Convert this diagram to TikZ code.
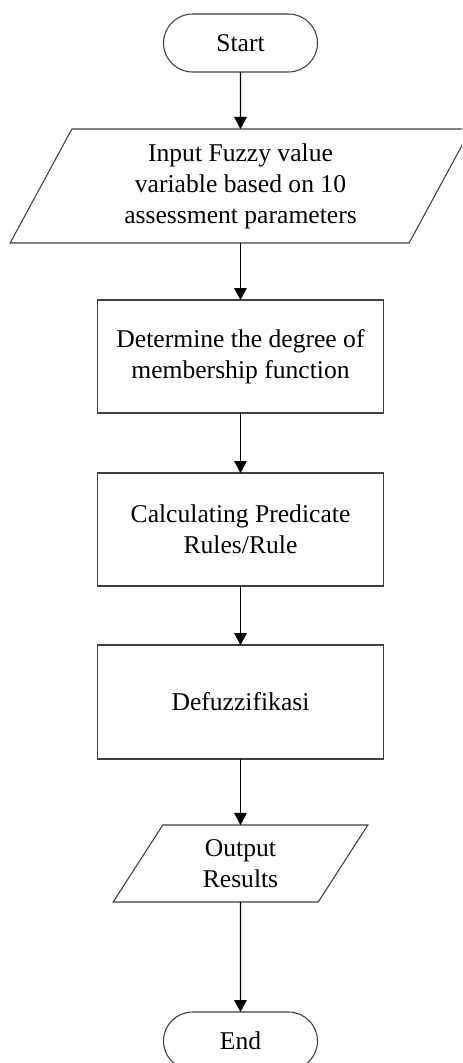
\documentclass[tikz,border=0pt]{standalone}
\usepackage{fontspec}
\setmainfont{Liberation Serif}
\usetikzlibrary{shapes.geometric,shapes.misc,arrows.meta}
\tikzset{
  base/.style={draw=black!75, line width=0.8pt, align=center, inner sep=0pt, outer sep=0pt,
    font=\fontsize{19.2pt}{23.2pt}\selectfont},
  term/.style={base, rounded rectangle, minimum width=115.5pt, minimum height=43.5pt},
  io/.style={base, trapezium, trapezium left angle=63.43, trapezium right angle=116.57,
    trapezium stretches=true},
  proc/.style={base, rectangle, minimum width=214.5pt, minimum height=84.75pt},
  flow/.style={draw=black, line width=0.8pt, -{Triangle[width=9.5pt,length=9pt]}}
}
\begin{document}
\begin{tikzpicture}[x=0.75pt,y=-0.75pt]
\useasboundingbox (0,0) rectangle (462,1063);
\fill[white] (0,0) rectangle (462,1063);
\clip (0,0) rectangle (462,1063);
\node[term] (start) at (240.5,43) {Start};
\node[io, minimum width=345.75pt, minimum height=85.5pt] (input) at (240.5,186)
  {Input Fuzzy value\\variable based on 10\\assessment parameters};
\node[proc] (deg) at (240.5,356.5) {Determine the degree of\\membership function};
\node[proc] (pred) at (240.5,529.5) {Calculating Predicate\\Rules/Rule};
\node[proc, minimum height=85.5pt] (defuz) at (240.5,702) {Defuzzifikasi};
\node[io, minimum width=192.75pt, minimum height=57.75pt] (out) at (240.5,863.5)
  {Output\\Results};
\node[term] (end) at (240.5,1041) {End};
\draw[flow] (start) -- (input.north -| start);
\draw[flow] (input.south -| start) -- (deg);
\draw[flow] (deg) -- (pred);
\draw[flow] (pred) -- (defuz);
\draw[flow] (defuz) -- (out.north -| defuz);
\draw[flow] (out.south -| defuz) -- (end);
\end{tikzpicture}
\end{document}
